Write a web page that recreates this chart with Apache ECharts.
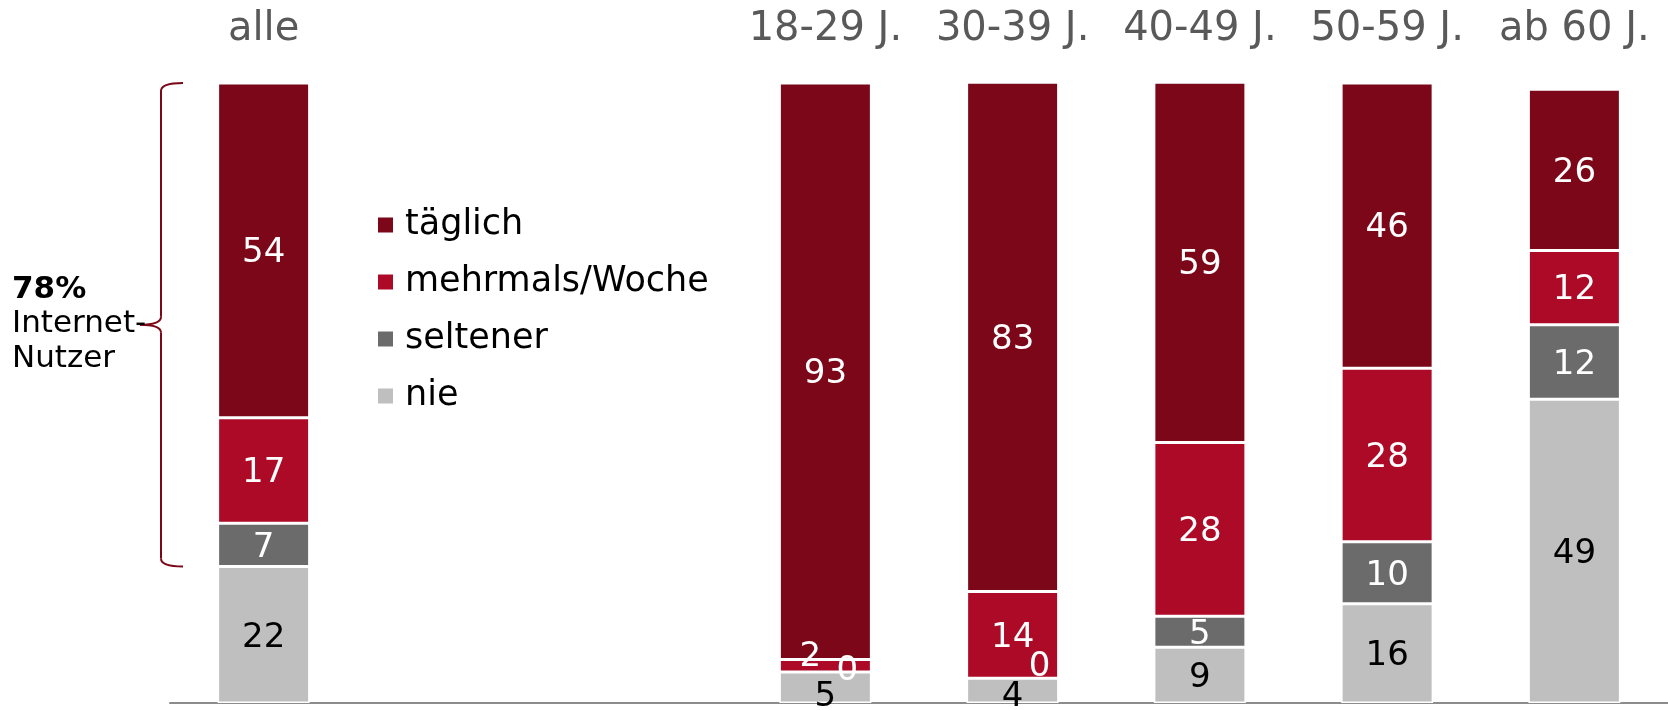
<!DOCTYPE html>
<html>
<head>
<meta charset="utf-8">
<title>Internetnutzung nach Alter</title>
<script src="https://cdn.jsdelivr.net/npm/echarts@6/dist/echarts.min.js"></script>
<style>
  html, body { margin: 0; padding: 0; background: #fff; }
  #chart { width: 1668px; height: 710px; }
</style>
</head>
<body>
<div id="chart"></div>
<script>
// Kategorien (zwei leere Plätze trennen "alle" von den Altersgruppen)
const categories = ['alle', '', ' ', '18-29 J.', '30-39 J.', '40-49 J.', '50-59 J.', 'ab 60 J.'];

// Anteile in Prozent
const taeglich = [54, null, null, 93, 83, 59, 46, 26];
const mehrmals = [17, null, null, 2, 14, 28, 28, 12];
const seltener = [7, null, null, 0, 0, 5, 10, 12];
const nie      = [22, null, null, 5, 4, 9, 16, 49];

const seriesNames = ['täglich', 'mehrmals/Woche', 'seltener', 'nie'];
const colors = {
  'täglich': '#7b0719',
  'mehrmals/Woche': '#ad0a27',
  'seltener': '#6b6b6b',
  'nie': '#bfbfbf'
};

// Verschobene Beschriftungen bei sehr kleinen Segmenten: [Serie, Kategorie-Index, Versatz]
const labelNudges = [
  ['mehrmals/Woche', 3, [-15, -9]],
  ['seltener', 3, [22, -1]],
  ['nie', 3, [0, 10]],
  ['seltener', 4, [27, -11]],
  ['nie', 4, [0, 7]]
];

function buildData(name, values) {
  return values.map((v, i) => {
    const nudge = labelNudges.find(n => n[0] === name && n[1] === i);
    if (v === null) return '-';
    if (nudge) return { value: v, label: { offset: nudge[2] } };
    return v;
  });
}

function barSeries(name, values, labelColor) {
  return {
    name: name,
    type: 'bar',
    stack: 'total',
    xAxisIndex: 0,
    barWidth: 92,
    clip: true,
    data: buildData(name, values),
    itemStyle: { color: colors[name], borderColor: '#ffffff', borderWidth: 1.5 },
    label: {
      show: true,
      position: 'inside',
      offset: [0, 3],
      color: labelColor,
      fontFamily: 'DejaVu Sans',
      fontSize: 34
    }
  };
}

const chart = echarts.init(document.getElementById('chart'), null, { renderer: 'canvas' });

const option = {
  animation: false,
  backgroundColor: '#ffffff',
  grid: { left: 170, right: 0, top: 83, bottom: 7, containLabel: false },
  legend: {
    data: seriesNames,
    orient: 'vertical',
    left: 371,
    top: 200,
    icon: 'rect',
    itemWidth: 17,
    itemHeight: 17,
    itemGap: 17,
    selectedMode: false,
    textStyle: {
      fontFamily: 'DejaVu Sans',
      fontSize: 35,
      color: '#000000',
      lineHeight: 40,
      padding: [0, 0, 0, 6]
    }
  },
  xAxis: [
    {
      type: 'category',
      data: categories,
      position: 'bottom',
      axisLine: { show: true, lineStyle: { color: '#8c8c8c', width: 2 } },
      axisTick: { show: false },
      axisLabel: { show: false },
      splitLine: { show: false }
    },
    {
      type: 'category',
      data: categories,
      position: 'top',
      axisLine: { show: false },
      axisTick: { show: false },
      axisLabel: {
        show: true,
        interval: 0,
        margin: 33,
        color: '#595959',
        fontFamily: 'DejaVu Sans',
        fontSize: 40
      },
      splitLine: { show: false }
    }
  ],
  yAxis: {
    type: 'value',
    min: 0,
    max: 100,
    show: false,
    splitLine: { show: false }
  },
  series: [
    barSeries('nie', nie, '#000000'),
    barSeries('seltener', seltener, '#ffffff'),
    barSeries('mehrmals/Woche', mehrmals, '#ffffff'),
    barSeries('täglich', taeglich, '#ffffff')
  ]
};

chart.setOption(option);

// Geschweifte Klammer über die Internet-Nutzer (alle Segmente außer "nie")
const nutzerAnteil = 100 - nie[0];
const yTop = chart.convertToPixel({ yAxisIndex: 0 }, 100);
const yBottom = chart.convertToPixel({ yAxisIndex: 0 }, nie[0]);
const yMid = (yTop + yBottom) / 2;
const xEnd = 183, xLine = 161, xTip = 140, r = 8;
const braceStyle = { fill: null, stroke: '#7b0719', lineWidth: 2 };

function curve(x1, y1, cx, cy, x2, y2) {
  return {
    type: 'bezierCurve',
    shape: { x1: x1, y1: y1, cpx1: cx, cpy1: cy, x2: x2, y2: y2 },
    style: braceStyle
  };
}
function straight(x1, y1, x2, y2) {
  return {
    type: 'line',
    shape: { x1: x1, y1: y1, x2: x2, y2: y2 },
    style: braceStyle
  };
}
function sideText(text, dy, weight) {
  return {
    type: 'text',
    x: 12,
    y: yMid + dy,
    style: {
      text: text,
      font: weight + ' 31px "DejaVu Sans"',
      fill: '#000000',
      align: 'left',
      verticalAlign: 'middle'
    }
  };
}

chart.setOption({
  graphic: [
    curve(xEnd, yTop, xLine, yTop, xLine, yTop + r),
    straight(xLine, yTop + r, xLine, yMid - r),
    curve(xLine, yMid - r, xLine, yMid, xTip, yMid),
    curve(xTip, yMid, xLine, yMid, xLine, yMid + r),
    straight(xLine, yMid + r, xLine, yBottom - r),
    curve(xLine, yBottom - r, xLine, yBottom, xEnd, yBottom),
    sideText(nutzerAnteil + '%', -35, 'bold'),
    sideText('Internet-', -1, 'normal'),
    sideText('Nutzer', 34, 'normal')
  ]
});
</script>
</body>
</html>
